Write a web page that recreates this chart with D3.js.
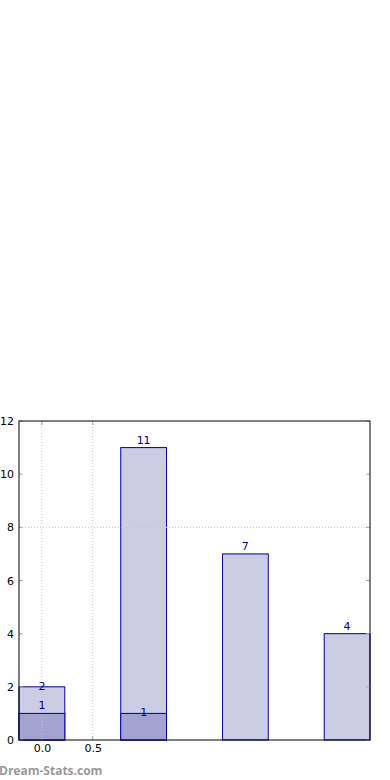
<!DOCTYPE html>
<html>
<head>
<meta charset="utf-8">
<script src="https://cdn.jsdelivr.net/npm/d3@7"></script>
<style>
body { margin: 0; background: #fff; }
text { font-family: "DejaVu Sans", sans-serif; }
</style>
</head>
<body>
<div id="chart"></div>
<script>
// bar positions, totals and the darker lower part
var positions = [0, 1, 2, 3];
var totals = [2, 11, 7, 4];
var lower = [1, 1, 0, 0];
var xTicks = [0.0, 0.5];
var yTicks = [0, 2, 4, 6, 8, 10, 12];
var gridX = [0.0, 0.5];
var gridY = [8];

var W = 390, H = 780;
var margin = {top: 421, right: 20, bottom: 40, left: 19},
    width = W - margin.left - margin.right,
    height = H - margin.top - margin.bottom;

var barW = 0.45;

var svg = d3.select("#chart").append("svg")
    .attr("width", W)
    .attr("height", H);

var g = svg.append("g")
    .attr("transform", "translate(" + margin.left + "," + margin.top + ")");

var x = d3.scaleLinear()
    .domain([-barW / 2, 3 + barW / 2])
    .range([0, width]);

var y = d3.scaleLinear()
    .domain([0, 12])
    .range([height, 0]);

var fillLight = "#ccccE5", fillDark = "#a3a3d1", edge = "#0000a0", labelCol = "#00008b";

// total bars
g.selectAll(".bar")
    .data(positions)
    .enter().append("rect")
    .attr("x", function (d) { return x(d - barW / 2); })
    .attr("y", function (d, i) { return y(totals[i]); })
    .attr("width", x(barW) - x(0))
    .attr("height", function (d, i) { return y(0) - y(totals[i]); })
    .style("fill", fillLight)
    .style("stroke", edge)
    .style("stroke-width", 1);

// lower part
g.selectAll(".low")
    .data(positions.filter(function (d, i) { return lower[i] > 0; }))
    .enter().append("rect")
    .attr("x", function (d) { return x(d - barW / 2); })
    .attr("y", function (d) { return y(lower[d]); })
    .attr("width", x(barW) - x(0))
    .attr("height", function (d) { return y(0) - y(lower[d]); })
    .style("fill", fillDark)
    .style("stroke", edge)
    .style("stroke-width", 1);

// dotted grid on top
gridX.forEach(function (v) {
    g.append("line")
        .attr("x1", x(v)).attr("x2", x(v))
        .attr("y1", 0).attr("y2", height)
        .style("stroke", "#c4c4c4")
        .style("stroke-dasharray", "1,2");
});
gridY.forEach(function (v) {
    g.append("line")
        .attr("x1", 0).attr("x2", width)
        .attr("y1", y(v)).attr("y2", y(v))
        .style("stroke", "#c4c4c4")
        .style("stroke-dasharray", "1,2");
});

// value labels (first bar's total and second bar's lower sit on the edge)
var totalLift = [1, 8, 8, 8];
var lowerLift = [8, 1, 0, 0];
positions.forEach(function (d, i) {
    g.append("text")
        .attr("x", x(d))
        .attr("y", y(totals[i]) - totalLift[i] + 4)
        .attr("text-anchor", "middle")
        .style("font-size", "11px")
        .style("fill", labelCol)
        .text(totals[i]);
    if (lower[i] > 0) {
        g.append("text")
            .attr("x", x(d))
            .attr("y", y(lower[i]) - lowerLift[i] + 4)
            .attr("text-anchor", "middle")
            .style("font-size", "11px")
            .style("fill", labelCol)
            .text(lower[i]);
    }
});

// axes
var yAxis = g.append("g")
    .call(d3.axisLeft(y).tickValues(yTicks).tickSize(0).tickPadding(5));
yAxis.select(".domain").remove();
yAxis.selectAll("text").style("font-size", "11px").style("fill", "#000");

var xAxis = g.append("g")
    .attr("transform", "translate(0," + height + ")")
    .call(d3.axisBottom(x).tickValues(xTicks).tickFormat(d3.format(".1f")).tickSize(0).tickPadding(4));
xAxis.select(".domain").remove();
xAxis.selectAll("text").style("font-size", "11px").style("fill", "#000");

// small inward ticks
yTicks.forEach(function (v) {
    g.append("line").attr("x1", 0).attr("x2", 4).attr("y1", y(v)).attr("y2", y(v))
        .style("stroke", "#aaa");
    g.append("line").attr("x1", width - 4).attr("x2", width).attr("y1", y(v)).attr("y2", y(v))
        .style("stroke", "#aaa");
});
xTicks.forEach(function (v) {
    g.append("line").attr("x1", x(v)).attr("x2", x(v)).attr("y1", height).attr("y2", height - 4)
        .style("stroke", "#aaa");
    g.append("line").attr("x1", x(v)).attr("x2", x(v)).attr("y1", 0).attr("y2", 4)
        .style("stroke", "#aaa");
});

// frame
g.append("rect")
    .attr("width", width).attr("height", height)
    .style("fill", "none")
    .style("stroke", "#000")
    .style("stroke-width", 1);

svg.append("text")
    .attr("x", -1)
    .attr("y", 775)
    .style("font-family", "'Open Sans', sans-serif")
    .style("font-size", "12px")
    .style("font-weight", "bold")
    .style("fill", "#999")
    .text("Dream-Stats.com");
</script>
</body>
</html>
